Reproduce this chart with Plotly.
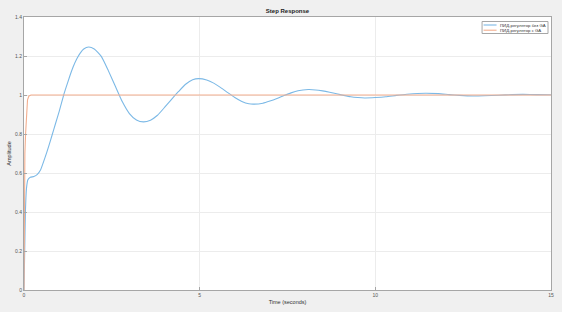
import plotly.graph_objects as go

# Blue: PID without GA
t_noga = [0, 0.02, 0.04, 0.07, 0.11, 0.18, 0.28, 0.38, 0.47, 0.6, 0.7, 0.8, 0.9, 1.0, 1.13,
          1.2, 1.3, 1.4, 1.5, 1.6, 1.7, 1.84, 2.0, 2.2, 2.4, 2.6, 2.8, 3.0, 3.2, 3.4,
          3.6, 3.8, 4.0, 4.2, 4.4, 4.6, 4.8, 4.97, 5.2, 5.4, 5.6, 5.8, 6.0, 6.2, 6.4, 6.53,
          6.8, 7.0, 7.2, 7.4, 7.6, 7.8, 8.09, 8.3, 8.5, 8.7, 8.9, 9.1, 9.3, 9.5, 9.7,
          10.0, 10.3, 10.6, 10.9, 11.2, 11.45, 11.8, 12.1, 12.4, 12.77, 13.1, 13.5, 13.9,
          14.2, 14.6, 15.0]
y_noga = [0, 0.2, 0.4, 0.52, 0.565, 0.578, 0.582, 0.593, 0.615, 0.68, 0.735, 0.795, 0.855, 0.915, 1.0,
          1.04, 1.095, 1.145, 1.185, 1.215, 1.236, 1.246, 1.236, 1.198, 1.125, 1.045, 0.965, 0.905, 0.872, 0.862,
          0.871, 0.896, 0.936, 0.978, 1.018, 1.055, 1.078, 1.084, 1.077, 1.061, 1.038, 1.012, 0.987, 0.967, 0.955, 0.953,
          0.958, 0.969, 0.982, 0.997, 1.011, 1.022, 1.028, 1.026, 1.021, 1.014, 1.006, 0.998, 0.991, 0.987, 0.985,
          0.987, 0.991, 0.998, 1.004, 1.008, 1.009, 1.007, 1.002, 0.998, 0.995, 0.996, 0.999, 1.002,
          1.003, 1.002, 1.001]

# Orange: PID with GA
t_ga = [0, 0.005, 0.012, 0.025, 0.045, 0.07, 0.1, 0.14, 0.2, 15.0]
y_ga = [0, 0.3, 0.55, 0.7, 0.8, 0.92, 0.975, 0.995, 1.0, 1.0]

names = ["ПИД-регулятор без GA", "ПИД-регулятор с GA"]
colors = ["#7cb9e6", "#f3ae8e"]

x_ticks = [0, 5, 10, 15]
y_ticks = [0, 0.2, 0.4, 0.6, 0.8, 1.0, 1.2, 1.4]
y_ticktext = ["0", "0.2", "0.4", "0.6", "0.8", "1", "1.2", "1.4"]

fig = go.Figure()
fig.add_trace(go.Scatter(x=t_noga, y=y_noga, mode="lines", name=names[0],
                         line=dict(color=colors[0], width=1.1, shape="spline", smoothing=0.5)))
fig.add_trace(go.Scatter(x=t_ga, y=y_ga, mode="lines", name=names[1],
                         line=dict(color=colors[1], width=1.1)))

axis_common = dict(showline=True, mirror=True, linecolor="#a6a6a6", linewidth=1,
                   showgrid=True, gridcolor="#ececec", gridwidth=1,
                   ticks="inside", ticklen=3, tickcolor="#a6a6a6",
                   tickfont=dict(size=5, color="#555555", family="Arial"),
                   zeroline=False, automargin=False)

# Plot area in pixels: x 23.5..551, y 17..290
L, R, T, B = 23.5, 11, 17, 22
W, H = 562, 312
pw, ph = W - L - R, H - T - B

def px(x):
    return (x - L) / pw

def py(y):
    return (H - B - y) / ph

fig.update_layout(
    width=W, height=H,
    paper_bgcolor="#f0f0f0", plot_bgcolor="#ffffff",
    margin=dict(l=L, r=R, t=T, b=B),
    title=dict(text="<b>Step Response</b>", x=0.5, xanchor="center", xref="paper",
               y=1 - 11 / H, yanchor="middle", yref="container",
               font=dict(size=6, color="#222222", family="Arial")),
    xaxis=dict(range=[0, 15], tickvals=x_ticks, title=dict(text="Time (seconds)", standoff=3,
               font=dict(size=5.5, color="#333333", family="Arial")), **axis_common),
    yaxis=dict(range=[0, 1.4], tickvals=y_ticks, ticktext=y_ticktext,
               title=dict(text="Amplitude", standoff=3, font=dict(size=5.5, color="#333333", family="Arial")),
               **axis_common),
    showlegend=False,
)

# Compact MATLAB-style legend
fig.add_shape(type="rect", xref="paper", yref="paper",
              x0=px(482), x1=px(548), y0=py(33.5), y1=py(21.5),
              line=dict(color="#a6a6a6", width=1), fillcolor="#ffffff", layer="above")
for i, (nm, c) in enumerate(zip(names, colors)):
    yy = 25 + i * 5.2
    fig.add_shape(type="line", xref="paper", yref="paper",
                  x0=px(483.5), x1=px(496.5), y0=py(yy), y1=py(yy),
                  line=dict(color=c, width=1.1), layer="above")
    fig.add_annotation(xref="paper", yref="paper", x=px(498), y=py(yy), text=nm,
                       xanchor="left", yanchor="middle", showarrow=False,
                       font=dict(size=4.3, color="#333333", family="Arial"))

fig.write_html("out.html", config={"displayModeBar": False},
               post_script="document.body.style.margin='0';document.body.style.overflow='hidden';")
